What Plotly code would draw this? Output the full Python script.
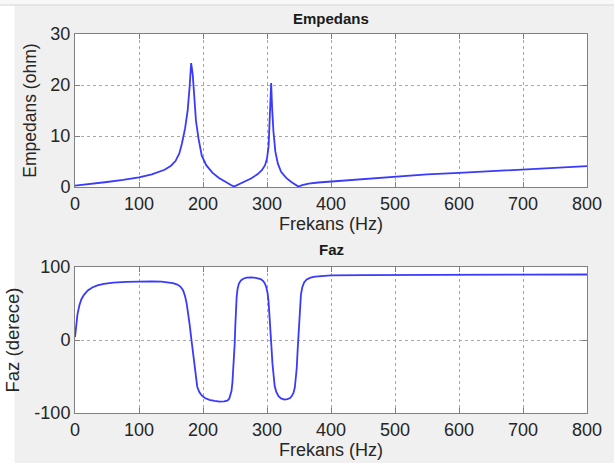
import plotly.graph_objects as go

# Impedance magnitude (ohm) vs frequency (Hz)
freq_z = [0, 25, 50, 75, 100, 120, 140, 150, 157, 163, 167, 172, 176, 179, 181.5, 184, 186, 189, 193,
          198, 205, 215, 225, 235, 243, 248.5, 255, 265, 275, 285, 292, 297, 300, 302.5, 304.5,
          306.5, 308, 310, 313, 317, 322, 330, 338, 345, 349, 355, 365, 380, 400, 450, 500, 550,
          600, 650, 700, 750, 800]
imp = [0.3, 0.6, 1.0, 1.4, 1.9, 2.5, 3.4, 4.2, 5.1, 6.6, 8.5, 11.5, 15.0, 19.5, 24.3, 22.0, 18.0, 13.0, 9.5,
       6.2, 4.3, 2.8, 1.8, 1.0, 0.45, 0.1, 0.5, 1.1, 1.7, 2.5, 3.3, 4.3, 5.6, 8.0, 13.0,
       20.4, 15.5, 11.0, 7.0, 4.6, 3.0, 1.8, 1.0, 0.4, 0.1, 0.4, 0.7, 0.9, 1.1, 1.6, 2.1, 2.5,
       2.8, 3.1, 3.45, 3.8, 4.1]

# Phase (degrees) vs frequency (Hz)
freq_p = [0, 2, 4, 7, 10, 14, 20, 27, 35, 45, 60, 80, 100, 120, 135, 145, 153, 160, 165, 169, 172,
          174.5, 176.5, 179, 182, 184.5, 187, 189, 191, 194, 198, 203, 210, 218, 226, 233, 238, 241,
          243, 244.5, 246, 247.5, 248.5, 249.5, 250.5, 251.5, 252.5, 254, 256, 259, 263, 268, 276,
          284, 290, 294, 297, 299, 301, 302.5, 304, 305.5, 307, 308.5, 310, 312, 314.5, 318, 322,
          327, 332, 336, 339, 341.5, 343.5, 345, 346.5, 347.8, 349, 350.3, 351.5, 353, 355, 358,
          362, 368, 375, 385, 400, 450, 500, 600, 700, 800]
phase = [4, 22, 36, 48, 56, 62, 68, 72, 75, 77, 78.7, 79.8, 80.5, 80.5, 80, 79.3, 78, 76, 73, 68, 60,
         50, 40, 22, 0, -20, -40, -55, -64, -71, -76, -79.5, -82, -83.5, -84.5, -84, -83, -80.5,
         -76, -70, -58, -40, -25, -5, 20, 42, 58, 70, 77, 81.5, 84, 85.5, 86,
         85, 83.5, 81, 77, 72, 64, 52, 35, 12, -10, -32, -50, -63, -71, -77, -80,
         -81.5, -81, -79.5, -76.5, -72, -65, -55, -38, -15, 5, 28, 48, 62, 72, 79,
         83, 85.5, 87, 88, 88.6, 89, 89.3, 89.5, 89.7, 89.8]

x_ticks = [0, 100, 200, 300, 400, 500, 600, 700, 800]
z_ticks = [0, 10, 20, 30]
p_ticks = [-100, 0, 100]
p_tick_text = ["-100", "0", "100"]

LINE = "#3a3aff"
FONT = "Liberation Sans, Arial, sans-serif"
AX = "#808080"

fig = go.Figure()
fig.add_trace(go.Scatter(x=freq_z, y=imp, mode="lines", line=dict(color=LINE, width=1.8),
                         xaxis="x", yaxis="y", showlegend=False))
fig.add_trace(go.Scatter(x=freq_p, y=phase, mode="lines", line=dict(color=LINE, width=1.8),
                         xaxis="x2", yaxis="y2", showlegend=False))

common = dict(showline=True, linecolor=AX, linewidth=1, mirror="ticks", ticks="inside",
              ticklen=5, tickcolor=AX, showgrid=True, gridcolor="#a8a8a8", griddash="dot",
              gridwidth=1, zeroline=False, tickfont=dict(family=FONT, size=18, color="#262626"))

fig.update_layout(
    width=614, height=463,
    paper_bgcolor="#f0f0f0", plot_bgcolor="white",
    margin=dict(l=74, r=24, t=34, b=50),
    font=dict(family=FONT, color="#262626"),
    xaxis=dict(domain=[0, 1], anchor="y", range=[0, 800], tickvals=x_ticks, **common),
    yaxis=dict(domain=[0.596, 1], anchor="x", range=[0, 30], tickvals=z_ticks,
               title=dict(text="Empedans (ohm)", font=dict(size=17.5), standoff=9), **common),
    xaxis2=dict(domain=[0, 1], anchor="y2", range=[0, 800], tickvals=x_ticks, **common),
    yaxis2=dict(domain=[0, 0.385], anchor="x2", range=[-100, 100], tickvals=p_ticks,
                ticktext=p_tick_text,
                title=dict(text="Faz (derece)", font=dict(size=18.5), standoff=9), **common),
)

# x-axis titles
for ypx in (223.5, 449.5):
    fig.add_annotation(text="Frekans (Hz)", x=0.5, y=(413 - ypx) / 379, xref="paper", yref="paper",
                       showarrow=False, font=dict(size=18, family=FONT, color="#262626"),
                       xanchor="center", yanchor="middle")

# subplot titles
fig.add_annotation(text="<b>Empedans</b>", x=0.5, y=(413 - 18) / 379, xref="paper", yref="paper",
                   showarrow=False, font=dict(size=15, family=FONT, color="#1a1a1a"),
                   xanchor="center", yanchor="middle")
fig.add_annotation(text="<b>Faz</b>", x=0.5, y=(413 - 249) / 379, xref="paper", yref="paper",
                   showarrow=False, font=dict(size=15, family=FONT, color="#1a1a1a"),
                   xanchor="center", yanchor="middle")

# window chrome: top toolbar strip and white left edge
fig.add_shape(type="rect", xref="paper", yref="paper", x0=-0.2, x1=1.1,
              y0=(413 - 5) / 379, y1=1.2, fillcolor="#f8f8f8", line=dict(width=0), layer="below")
fig.add_shape(type="line", xref="paper", yref="paper", x0=-0.2, x1=1.1,
              y0=(413 - 5) / 379, y1=(413 - 5) / 379, line=dict(color="#d4d4d4", width=1))
fig.add_shape(type="rect", xref="paper", yref="paper", x0=-0.2, x1=(13 - 74) / 516,
              y0=-0.2, y1=(413 - 5) / 379, fillcolor="white", line=dict(width=0), layer="below")

fig.write_html("out.html")
